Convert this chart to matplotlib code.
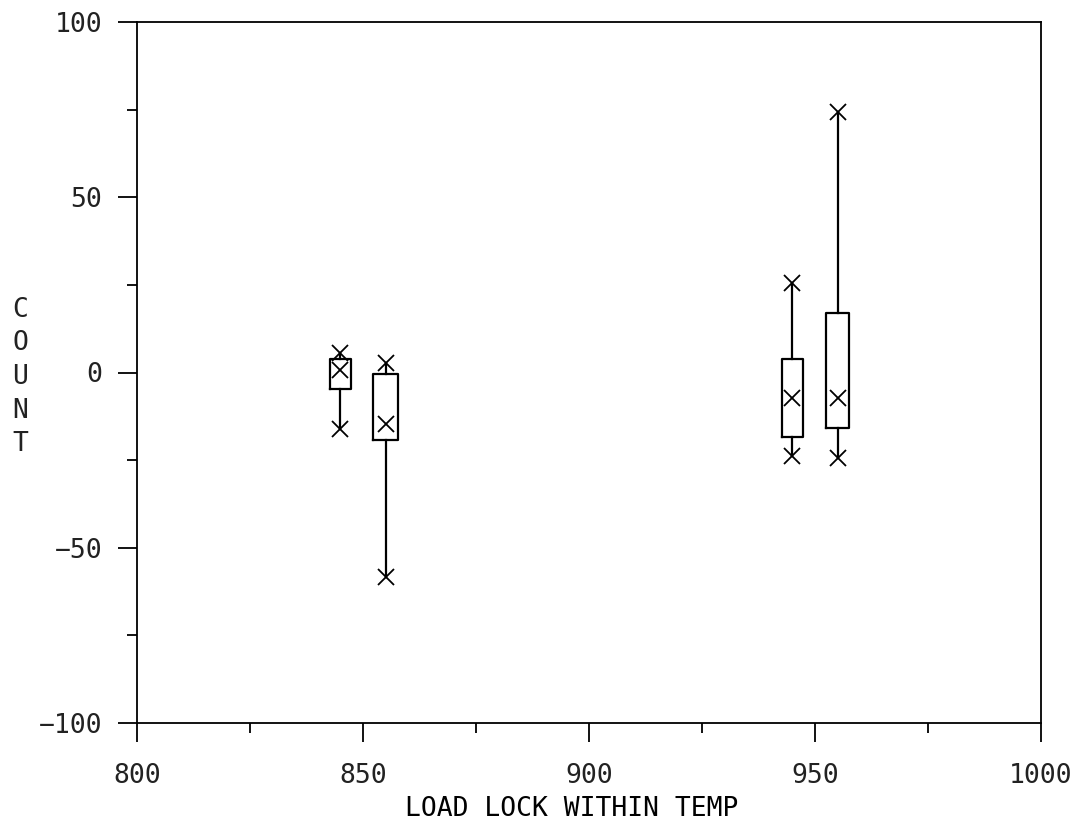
import matplotlib
matplotlib.use("Agg")
import matplotlib.pyplot as plt
from matplotlib.ticker import MultipleLocator

# box summaries
temps = [845, 855, 945, 955]
q_hi = [3.9, -0.5, 3.9, 16.9]
q_lo = [-4.8, -19.3, -18.3, -15.9]
y_max = [5.5, 2.8, 25.4, 74.4]
y_min = [-16.0, -58.3, -23.8, -24.5]
y_mid = [0.7, -14.7, -7.2, -7.2]
box_w = [4.6, 5.4, 4.6, 5.2]

plt.rcParams["font.family"] = ["DejaVu Sans Mono"]
plt.rcParams["font.size"] = 19
plt.rcParams["text.color"] = "#222222"
plt.rcParams["xtick.labelcolor"] = "#222222"
plt.rcParams["ytick.labelcolor"] = "#222222"

fig = plt.figure(figsize=(10.81, 8.25), dpi=100)
ax = fig.add_axes([137 / 1081, 1 - 723 / 825, 904 / 1081, 701 / 825])

stats = []
for m, lo, hi, mn, mx in zip(y_mid, q_lo, q_hi, y_min, y_max):
    stats.append(dict(med=m, mean=m, q1=lo, q3=hi, whislo=mn, whishi=mx,
                      fliers=[mn, mx]))

mk = dict(marker="x", markersize=11, markeredgewidth=1.3, markeredgecolor="black",
          markerfacecolor="none", linestyle="none")
ax.bxp(stats, positions=temps, widths=box_w, showcaps=False, showmeans=True,
       showfliers=True, manage_ticks=False,
       boxprops=dict(color="black", linewidth=1.6),
       whiskerprops=dict(color="black", linewidth=1.6),
       medianprops=dict(linewidth=0),
       meanprops=mk, flierprops=mk)

ax.set_xlim(800, 1000)
ax.set_ylim(-100, 100)
ax.xaxis.set_major_locator(MultipleLocator(50))
ax.xaxis.set_minor_locator(MultipleLocator(25))
ax.yaxis.set_major_locator(MultipleLocator(50))
ax.yaxis.set_minor_locator(MultipleLocator(25))
ax.tick_params(which="major", direction="out", length=14, width=1.3, pad=11)
ax.tick_params(axis="x", which="major", pad=15)
ax.tick_params(which="minor", direction="out", length=7.5, width=1.3)
for s in ax.spines.values():
    s.set_linewidth(1.3)

ax.set_xlabel("LOAD LOCK WITHIN TEMP", x=0.481, labelpad=5)
fig.text(20 / 1081, 1 - 377 / 825, "C\nO\nU\nN\nT", ha="center", va="center",
         linespacing=1.38, fontsize=19)

fig.savefig("out.png", dpi=100)
